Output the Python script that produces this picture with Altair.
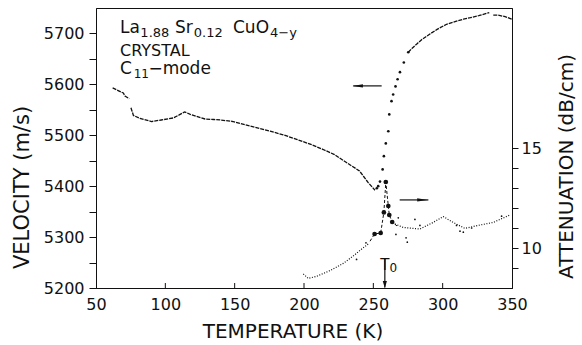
import altair as alt
import pandas as pd

# ---------------- data ----------------
# Sound velocity (m/s), left axis
vel1_T = [62, 69.7, 70.9, 74]
vel1_V = [5593, 5583, 5577, 5572]

vel2_T = [75.2, 77, 81.7, 90, 97, 105.7, 110, 114, 118, 122.6, 128.6, 135, 140, 149,
          160, 175.5, 185, 194.7, 205, 213.9, 222, 232, 240, 246.3, 251.2]
vel2_V = [5554, 5539, 5533, 5527, 5530, 5534, 5540, 5546, 5541, 5537, 5532, 5531, 5530, 5527,
          5519, 5508, 5501, 5492, 5482, 5472, 5462, 5444, 5430, 5407, 5392]

vel_steep_T = [252.5, 253.5, 254.8, 256.7, 257.6, 259, 260.8, 261.5, 263.1, 264.3, 266,
               267.5, 269.2, 272, 275.2]
vel_steep_V = [5396, 5400, 5409, 5433, 5459, 5484, 5508, 5541, 5567, 5580, 5596,
               5610, 5624, 5643, 5663]

vel3_T = [275.2, 278, 281.2, 285, 290.8, 296, 302.8, 310, 315, 320, 326, 333.6]
vel3_V = [5663, 5671, 5679, 5688, 5699, 5708, 5718, 5724, 5728, 5731, 5735, 5741]

vel4_T = [336.5, 340, 345, 350]
vel4_V = [5736, 5736, 5733, 5728]

# Attenuation (dB/cm), right axis
att_low_T = [199.5, 203, 209, 218.7, 228.3, 235.5, 241.6, 246.3]
att_low_A = [8.7, 8.48, 8.58, 8.87, 9.23, 9.6, 9.95, 10.2]

att_high_T = [265.6, 271.5, 283.6, 293.2, 300.4, 307.6, 316, 326.9, 336.5, 348.5]
att_high_A = [11.2, 11.03, 10.95, 11.28, 11.57, 11.28, 10.98, 11.15, 11.28, 11.65]

att_scat_T = [237.9, 244.7, 266.3, 268, 273.6, 274.5, 280, 283.6, 310, 312.5, 314.9, 320.9, 342.5]
att_scat_A = [9.43, 10.26, 10.68, 11.51, 10.51, 10.29, 11.43, 11.13, 11.13, 10.84, 10.79, 11.0, 11.59]

att_big_T = [250.9, 255.3, 257.6, 259, 260.8, 261.5, 263.6]
att_big_A = [10.7, 10.75, 11.78, 13.3, 12.1, 11.65, 11.3]

att_dash_T = [247.6, 250.9, 255.3, 257.6, 259, 260.8, 261.5, 263.6, 268]
att_dash_A = [10.34, 10.7, 10.75, 11.78, 13.3, 12.1, 11.65, 11.3, 11.05]

# Annotation texts (text, T, V, font size)
ann_text = ["La", "1.88", "Sr", "0.12", "CuO", "4\u2212y", "CRYSTAL", "C", "11", "\u2212mode"]
ann_T = [67.3, 82.0, 107, 120.5, 148.8, 175.5, 67.3, 67.3, 77.2, 87.8]
ann_V = [5700, 5693, 5700, 5693, 5700, 5693, 5656, 5620, 5613, 5620]
ann_fs = [17, 13, 17, 13, 17, 13, 16, 17, 12, 17]

# Arrows (velocity units)
arr_T = [235.5, 269, 258.3]
arr_T2 = [256, 289.7, 258.3]
arr_V = [5597, 5373, 5257]
arr_V2 = [5597, 5373, 5201]
head_T = [238.7, 285.4, 258.3]
head_V = [5597, 5373, 5207]
head_shape = ["M-1,0L1,-0.3L1,0.3Z", "M1,0L-1,-0.3L-1,0.3Z", "M0,1L-0.6,-1L0.6,-1Z"]
head_size = [110, 110, 49]

t0_text = ["T", "0"]
t0_T = [258.3, 261.6]
t0_V = [5235, 5231]
t0_fs = [15, 12]
t0_align = ["center", "left"]

x_ticks = [50, 100, 150, 200, 250, 300, 350]
x_inner_ticks = [100, 150, 200, 250, 300]
v_ticks = list(range(5200, 5701, 50))
a_ticks = [9, 10, 11, 12, 13, 14, 15]

FONT = "DejaVu Sans"
INK = "#111111"


def frame(T, Y, name):
    return pd.DataFrame({"T": T, name: Y, "i": list(range(len(T)))})


XS = alt.Scale(domain=[50, 350], nice=False, zero=False)
VS = alt.Scale(domain=[5200, 5750], nice=False, zero=False)
AS = alt.Scale(domain=[8, 22], nice=False, zero=False)

x_axis = alt.Axis(values=x_ticks, format="d", ticks=False, labelPadding=8, labelFlush=False,
                  labelFontSize=16, title="TEMPERATURE (K)", titleFontSize=20,
                  titleX=196.5, titleY=49, titleAlign="center", titleBaseline="alphabetic")

v_axis = alt.Axis(values=v_ticks, format="d", orient="left", tickSize=7, labelPadding=5,
                  labelFontSize=16, labelFlush=False,
                  labelExpr="datum.value % 100 == 0 ? datum.label : ''",
                  title="VELOCITY  (m/s)", titleFontSize=21, titleAngle=270,
                  titleX=-68, titleY=179, titleAlign="center", titleBaseline="alphabetic")

a_axis = alt.Axis(values=a_ticks, format="d", orient="right", tickSize=6, labelPadding=3,
                  labelFontSize=16, labelFlush=False,
                  labelExpr="datum.value == 10 || datum.value == 15 ? datum.label : ''",
                  title="ATTENUATION  (dB/cm)", titleFontSize=20, titleAngle=270,
                  titleX=60, titleY=158, titleAlign="center", titleBaseline="alphabetic")

X = alt.X("T:Q", scale=XS, axis=x_axis)


def vel_line(T, V, first=False):
    return alt.Chart(frame(T, V, "V")).mark_line(
        color=INK, strokeWidth=1.3, strokeDash=[4, 1]
    ).encode(x=X, y=alt.Y("V:Q", scale=VS, axis=v_axis if first else None), order="i:Q")


layers = [
    vel_line(vel1_T, vel1_V, first=True),
    vel_line(vel2_T, vel2_V),
    vel_line(vel3_T, vel3_V),
    vel_line(vel4_T, vel4_V),
    alt.Chart(frame(vel_steep_T, vel_steep_V, "V")).mark_circle(color=INK, size=7, opacity=1)
    .encode(x=X, y=alt.Y("V:Q", scale=VS, axis=None)),
    # attenuation
    alt.Chart(frame(att_low_T, att_low_A, "A")).mark_line(
        color=INK, strokeWidth=1.2, strokeDash=[1, 1.6]
    ).encode(x=X, y=alt.Y("A:Q", scale=AS, axis=a_axis), order="i:Q"),
    alt.Chart(frame(att_high_T, att_high_A, "A")).mark_line(
        color=INK, strokeWidth=1.2, strokeDash=[1, 1.6]
    ).encode(x=X, y=alt.Y("A:Q", scale=AS, axis=None), order="i:Q"),
    alt.Chart(frame(att_scat_T, att_scat_A, "A")).mark_circle(color=INK, size=3, opacity=1)
    .encode(x=X, y=alt.Y("A:Q", scale=AS, axis=None)),
    alt.Chart(frame(att_dash_T, att_dash_A, "A")).mark_line(
        color=INK, strokeWidth=1, strokeDash=[3, 2]
    ).encode(x=X, y=alt.Y("A:Q", scale=AS, axis=None), order="i:Q"),
    alt.Chart(frame(att_big_T, att_big_A, "A")).mark_circle(color=INK, size=22, opacity=1)
    .encode(x=X, y=alt.Y("A:Q", scale=AS, axis=None)),
    # arrows
    alt.Chart(pd.DataFrame({"T": arr_T, "T2": arr_T2, "V": arr_V, "V2": arr_V2}))
    .mark_rule(color=INK, strokeWidth=1.2)
    .encode(x=X, x2="T2:Q", y=alt.Y("V:Q", scale=VS, axis=None), y2="V2:Q"),
    alt.Chart(pd.DataFrame({"T": head_T, "V": head_V, "s": head_shape, "z": head_size}))
    .mark_point(filled=True, color=INK, opacity=1, strokeWidth=0)
    .encode(x=X, y=alt.Y("V:Q", scale=VS, axis=None),
            shape=alt.Shape("s:N", scale=None), size=alt.Size("z:Q", scale=None)),
    # inward x ticks
    alt.Chart(pd.DataFrame({"T": x_inner_ticks}))
    .mark_rule(color=INK, strokeWidth=1)
    .encode(x=X, y=alt.value(280), y2=alt.value(275)),
    # annotations
    alt.Chart(pd.DataFrame({"t": ann_text, "T": ann_T, "V": ann_V, "fs": ann_fs}))
    .mark_text(align="left", baseline="alphabetic", font=FONT, color=INK)
    .encode(x=X, y=alt.Y("V:Q", scale=VS, axis=None), text="t:N",
            size=alt.Size("fs:Q", scale=None)),
    alt.Chart(pd.DataFrame({"t": t0_text, "T": t0_T, "V": t0_V, "fs": t0_fs, "al": t0_align}))
    .transform_filter("datum.al == 'center'")
    .mark_text(align="center", baseline="alphabetic", font=FONT, color=INK)
    .encode(x=X, y=alt.Y("V:Q", scale=VS, axis=None), text="t:N",
            size=alt.Size("fs:Q", scale=None)),
    alt.Chart(pd.DataFrame({"t": t0_text, "T": t0_T, "V": t0_V, "fs": t0_fs, "al": t0_align}))
    .transform_filter("datum.al == 'left'")
    .mark_text(align="left", baseline="alphabetic", font=FONT, color=INK)
    .encode(x=X, y=alt.Y("V:Q", scale=VS, axis=None), text="t:N",
            size=alt.Size("fs:Q", scale=None)),
]

chart = (
    alt.layer(*layers)
    .resolve_scale(y="independent")
    .properties(
        width=416, height=280,
        autosize=alt.AutoSizeParams(type="none"),
        padding={"left": 96, "top": 8, "right": 70, "bottom": 57},
        background="white",
    )
    .configure_view(stroke=INK, strokeWidth=1)
    .configure_axis(
        grid=False, domainColor=INK, tickColor=INK, labelColor=INK, titleColor=INK,
        labelFont=FONT, titleFont=FONT, titleFontWeight="normal", domainWidth=1, tickWidth=1,
    )
)

chart.save("out.html", embed_options={"renderer": "svg", "actions": False})
